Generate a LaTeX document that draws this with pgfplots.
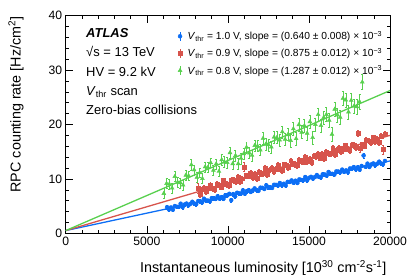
\documentclass[border=0pt]{standalone}
\usepackage{pgfplots}
\pgfplotsset{compat=1.18}
\usepackage{pgfplotstable}
\usepackage{fontspec}
\setmainfont{Liberation Sans}
\definecolor{cblue}{RGB}{12,110,245}
\definecolor{cred}{RGB}{215,84,76}
\definecolor{cgreen}{RGB}{88,208,78}

\pgfplotstableread{
x y e
6250 4.80 0.3
6370 4.38 0.3
6490 4.75 0.3
6610 4.33 0.3
6730 5.01 0.3
6850 4.88 0.3
6970 4.86 0.3
7090 5.44 0.3
7210 4.81 0.3
7330 5.29 0.3
7450 5.47 0.3
7570 5.14 0.3
7690 5.42 0.3
7810 5.80 0.3
7930 5.48 0.3
8050 5.35 0.3
8170 5.93 0.3
8290 5.91 0.3
8410 5.68 0.3
8530 6.36 0.3
8650 6.04 0.3
8770 6.01 0.3
8890 5.89 0.3
9010 6.47 0.3
9130 6.44 0.3
9250 6.32 0.3
9370 6.80 0.3
9490 6.37 0.3
9610 6.65 0.3
9730 6.33 0.3
9850 7.00 0.3
9970 6.98 0.3
10090 7.26 0.3
10210 6.10 0.4
10330 7.21 0.3
10450 6.79 0.3
10570 7.46 0.3
10690 7.34 0.3
10810 7.32 0.3
10930 7.90 0.3
11050 7.27 0.3
11170 7.75 0.3
11290 7.93 0.3
11410 7.60 0.3
11530 7.88 0.3
11650 8.26 0.3
11770 7.93 0.3
11890 7.81 0.3
12010 8.39 0.3
12130 8.36 0.3
12250 8.14 0.3
12370 8.82 0.3
12490 8.49 0.3
12610 8.47 0.3
12730 8.35 0.3
12850 8.92 0.3
12970 8.90 0.3
13090 8.78 0.3
13210 9.25 0.3
13330 8.83 0.3
13450 9.11 0.3
13570 8.78 0.3
13690 9.46 0.3
13810 9.44 0.3
13930 9.72 0.3
14050 9.29 0.3
14170 9.67 0.3
14290 9.25 0.3
14410 9.92 0.3
14530 9.80 0.3
14650 9.78 0.3
14770 10.35 0.3
14890 9.73 0.3
15010 10.21 0.3
15130 10.38 0.3
15250 10.06 0.3
15370 10.34 0.3
15490 10.71 0.3
15610 10.39 0.3
15730 10.27 0.3
15850 10.84 0.3
15970 10.82 0.3
16090 10.60 0.3
16210 11.27 0.3
16330 10.95 0.3
16450 10.93 0.3
16570 10.80 0.3
16690 11.38 0.3
16810 11.36 0.3
16930 11.24 0.3
17050 11.71 0.3
17170 11.29 0.3
17290 11.57 0.3
17410 11.24 0.3
17530 11.92 0.3
17650 11.90 0.3
17770 12.17 0.3
17890 11.75 0.3
18010 12.13 0.3
18130 11.70 0.3
18250 12.38 0.3
18370 14.30 0.5
18490 12.23 0.3
18610 12.81 0.3
18730 12.19 0.3
18850 12.66 0.3
18970 12.84 0.3
19090 12.52 0.3
19210 12.79 0.3
19330 13.17 0.3
19450 12.85 0.3
19570 12.72 0.3
19690 13.30 0.3
}\bluedata

\pgfplotstableread{
x y e
8150 8.35 0.9
8280 7.20 0.5
8410 8.04 0.5
8540 8.33 0.5
8670 7.73 0.5
8800 8.20 0.5
8930 8.85 0.5
9060 8.25 0.5
9190 8.00 0.5
9320 9.01 0.5
9450 8.95 0.5
9580 8.52 0.5
9710 9.72 0.5
9840 9.11 0.5
9970 9.04 0.5
10100 8.80 0.5
10230 9.81 0.5
10360 9.74 0.5
10490 9.50 0.5
10620 10.33 0.5
10750 9.55 0.5
10880 10.02 0.5
11010 12.20 0.8
11140 10.61 0.5
11270 10.54 0.5
11400 11.01 0.5
11530 10.23 0.5
11660 10.88 0.5
11790 10.09 0.5
11920 11.29 0.5
12050 11.04 0.5
12180 10.98 0.5
12310 11.99 0.5
12440 10.84 0.5
12570 11.68 0.5
12700 11.97 0.5
12830 11.36 0.5
12960 11.84 0.5
13090 12.49 0.5
13220 11.89 0.5
13350 11.64 0.5
13480 12.65 0.5
13610 12.59 0.5
13740 12.16 0.5
13870 13.36 0.5
14000 12.75 0.5
14130 12.68 0.5
14260 12.44 0.5
14390 13.45 0.5
14520 13.38 0.5
14650 13.14 0.5
14780 13.97 0.5
14910 13.19 0.5
15040 13.66 0.5
15170 13.05 0.5
15300 14.25 0.5
15430 14.18 0.5
15560 14.65 0.5
15690 13.87 0.5
15820 14.52 0.5
15950 13.74 0.5
16080 14.93 0.5
16210 14.68 0.5
16340 14.62 0.5
16470 15.63 0.5
16600 14.48 0.5
16730 15.32 0.5
16860 15.61 0.5
16990 15.01 0.5
17120 15.48 0.5
17250 16.13 0.5
17380 15.53 0.5
17510 15.28 0.5
17640 16.29 0.5
17770 16.23 0.5
17900 15.80 0.5
18030 18.40 0.6
18160 15.70 0.7
18290 16.32 0.5
18420 16.08 0.5
18550 17.09 0.5
18680 17.02 0.5
18810 16.78 0.5
18940 17.61 0.5
19070 16.83 0.5
19200 17.30 0.5
19330 16.69 0.5
19460 17.89 0.5
19590 15.40 0.8
19720 18.29 0.5
}\reddata

\pgfplotstableread{
x y e
6050 7.33 0.9
6220 9.15 0.9
6390 9.05 0.9
6560 8.31 0.9
6730 10.45 0.9
6900 9.38 0.9
7070 9.28 0.9
7240 8.86 0.9
7410 10.68 0.9
7580 10.58 0.9
7750 12.60 1.0
7920 11.66 0.9
8090 10.28 0.9
8260 11.13 0.9
8430 10.07 0.9
8600 12.21 0.9
8770 12.11 0.9
8940 12.97 0.9
9110 11.59 0.9
9280 12.77 0.9
9450 11.39 0.9
9620 13.52 1.0
9790 13.10 1.0
9960 13.00 1.0
10130 14.82 1.0
10300 12.80 1.0
10470 14.30 1.0
10640 12.80 1.0
10810 13.78 1.0
10980 14.63 1.0
11150 15.81 1.0
11320 14.75 1.0
11490 14.33 1.0
11660 16.15 1.0
11830 16.05 1.0
12000 15.31 1.0
12170 17.45 1.1
12340 16.38 1.1
12510 16.28 1.1
12680 15.86 1.1
12850 17.68 1.1
13020 17.58 1.1
13190 17.16 1.1
13360 18.66 1.1
13530 17.28 1.1
13700 18.13 1.1
13870 17.07 1.2
14040 19.21 1.2
14210 17.40 1.2
14380 19.97 1.2
14550 18.59 1.2
14720 19.77 1.2
14890 18.39 1.2
15060 20.52 1.2
15230 17.60 1.2
15400 20.00 1.2
15570 21.82 1.2
15740 19.80 1.2
15910 21.30 1.2
16080 21.84 1.3
16250 20.78 1.3
16420 18.20 1.3
16590 22.81 1.3
16760 21.75 1.3
16930 21.33 1.3
17100 24.80 1.3
17270 24.50 1.3
17440 22.31 1.3
17610 24.45 1.3
17780 23.38 1.3
17950 23.28 1.3
18120 24.20 1.3
18290 27.80 1.4
}\greendata

\begin{document}
\begin{tikzpicture}
\begin{axis}[
  name=ax,
  width=324.3bp, height=217.6bp, scale only axis,
  xmin=0, xmax=20000, ymin=0, ymax=40,
  xtick={0,5000,10000,15000,20000},
  ytick={0,10,20,30,40},
  minor x tick num=4, minor y tick num=4,
  scaled x ticks=false,
  tick align=inside,
  major tick length=7bp, minor tick length=3.5bp,
  tick style={black, line width=0.5pt},
  axis line style={line width=0.6pt},
  xtick pos=both, ytick pos=both,
  /pgf/number format/assume math mode=true,
  /pgf/number format/1000 sep={},
  ticklabel style={font=\fontsize{12.2}{13}\selectfont},
  xlabel={Instantaneous luminosity [10\textsuperscript{30} cm\textsuperscript{-2}s\textsuperscript{-1}]},
  ylabel={RPC counting rate [Hz/cm\textsuperscript{2}]},
  label style={font=\fontsize{14.4}{16}\selectfont},
  xlabel style={at={(rel axis cs:1,-0.1811)}, anchor=base east},
  ylabel style={at={(rel axis cs:-0.1388,1.0124)}, anchor=base east},
  legend cell align=left,
  legend style={at={(rel axis cs:0.336,0.948)}, anchor=north west, draw=none, fill=none,
    font=\fontsize{10.3}{12}\selectfont, row sep=3bp},
]
\addplot[only marks, mark=*, mark size=2pt, color=cblue,
  legend image code/.code={\draw[cblue, line width=0.5pt] (0bp,-4.5bp) -- (0bp,4.5bp);
    \fill[cblue] (0bp,0bp) circle (2pt); \path (5.5bp,0bp);},
  error bars/.cd, y dir=both, y explicit,
  error bar style={line width=0.4pt, color=cblue},
  error mark options={mark size=1pt, rotate=90, line width=0.4pt, color=cblue}]
  table[x=x, y=y, y error=e] {\bluedata};
\addlegendentry{\textit{V}\textsubscript{thr} = 1.0 V, slope = (0.640 ± 0.008) × 10\textsuperscript{−3}}
\addplot[only marks, mark=square*, mark size=1.9pt, color=cred,
  legend image code/.code={\draw[cred, line width=0.5pt] (0bp,-4.5bp) -- (0bp,4.5bp);
    \fill[cred] (-1.9pt,-1.9pt) rectangle (1.9pt,1.9pt); \path (5.5bp,0bp);},
  error bars/.cd, y dir=both, y explicit,
  error bar style={line width=0.4pt, color=cred},
  error mark options={mark size=1pt, rotate=90, line width=0.4pt, color=cred}]
  table[x=x, y=y, y error=e] {\reddata};
\addlegendentry{\textit{V}\textsubscript{thr} = 0.9 V, slope = (0.875 ± 0.012) × 10\textsuperscript{−3}}
\addplot[only marks, mark=triangle*, mark size=2.3pt, color=cgreen,
  legend image code/.code={\draw[cgreen, line width=0.5pt] (0bp,-4.5bp) -- (0bp,4.5bp);
    \fill[cgreen] (90:2.3pt) -- (210:2.3pt) -- (330:2.3pt) -- cycle; \path (5.5bp,0bp);},
  error bars/.cd, y dir=both, y explicit,
  error bar style={line width=0.4pt, color=cgreen},
  error mark options={mark size=1pt, rotate=90, line width=0.4pt, color=cgreen}]
  table[x=x, y=y, y error=e] {\greendata};
\addlegendentry{\textit{V}\textsubscript{thr} = 0.8 V, slope = (1.287 ± 0.012) × 10\textsuperscript{−3}}
\addplot[cblue, line width=1.3pt, forget plot] coordinates {(0,0.5) (20000,13.3)};
\addplot[cred, line width=1.3pt, forget plot] coordinates {(0,0.5) (20000,18.0)};
\addplot[cgreen, line width=1.3pt, forget plot] coordinates {(0,0.5) (20000,26.24)};
\node[anchor=base west, font=\fontsize{13}{15}\selectfont\bfseries\itshape] at (rel axis cs:0.0524,0.9007) {ATLAS};
\node[anchor=base west, font=\fontsize{13}{15}\selectfont] at (rel axis cs:0.0524,0.8117) {√s = 13 TeV};
\node[anchor=base west, font=\fontsize{13}{15}\selectfont] at (rel axis cs:0.0524,0.7227) {HV = 9.2 kV};
\node[anchor=base west, font=\fontsize{13}{15}\selectfont] at (rel axis cs:0.0524,0.6337) {\textit{V}\textsubscript{thr} scan};
\node[anchor=base west, font=\fontsize{13}{15}\selectfont] at (rel axis cs:0.0524,0.5447) {Zero-bias collisions};
\end{axis}
\pgfresetboundingbox
\path ([shift={(-65.7bp,-45.7bp)}]ax.south west) rectangle ([shift={(21bp,15.7bp)}]ax.north east);
\end{tikzpicture}
\end{document}
